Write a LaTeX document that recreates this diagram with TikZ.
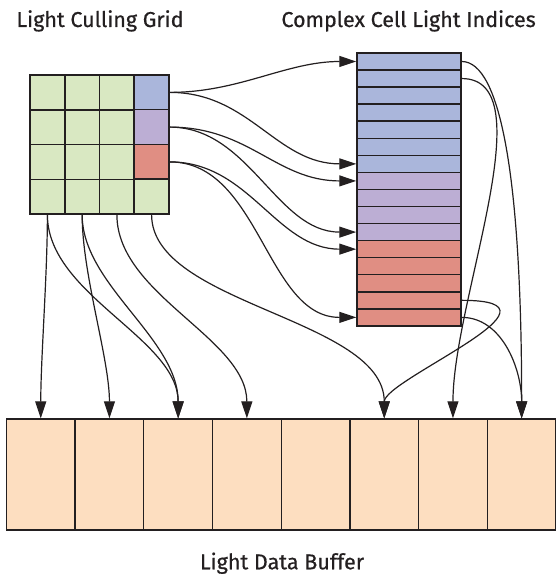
\documentclass[tikz,border=0pt]{standalone}
\usepackage{xcolor}
\usepackage{fontspec}
\setmainfont{Fira Sans}
\newfontfamily\labelfont[FakeBold=0.6]{Fira Sans}
\usepackage{tikz}
\usetikzlibrary{arrows.meta, positioning}

\definecolor{inkgray}{HTML}{231F20}
\definecolor{gridgreen}{HTML}{D9E8C2}
\definecolor{idxblue}{HTML}{AAB6DB}
\definecolor{idxpurple}{HTML}{BCAED4}
\definecolor{idxred}{HTML}{E08E83}
\definecolor{bufpeach}{HTML}{FDDEC0}

\begin{document}
\begin{tikzpicture}[
      x=1pt, y=1pt,
      gridcell/.style={
         rectangle,
         draw=inkgray,
         fill=gridgreen,
         line width=1.5pt,
         inner sep=0pt,
         minimum size=34.75pt},
      idxcell/.style={
         rectangle,
         draw=inkgray,
         line width=1.5pt,
         inner sep=0pt,
         minimum width=104pt,
         minimum height=17.06pt},
      bufcell/.style={
         rectangle,
         draw=inkgray,
         fill=bufpeach,
         line width=1.3pt,
         inner sep=0pt,
         minimum width=68.7pt,
         minimum height=111pt},
      title/.style={
         anchor=base,
         text=inkgray,
         font=\labelfont\fontsize{21.5}{24}\selectfont},
      myarrow/.style={
         -{Triangle[length=17pt,width=11pt]},
         draw=inkgray,
         line width=1.2pt}
      ]
      \useasboundingbox (0,0) rectangle (556,575);

      % light culling grid
      \foreach \r in {0,...,3}
        \foreach \c in {0,...,2}
          \node[gridcell] at ({47.4+34.75*\c}, {482.6-34.75*\r}) (g-\r-\c) {};
      \node[gridcell, fill=idxblue]   at (151.6, 482.6) (g-0-3) {};
      \node[gridcell, fill=idxpurple] at (151.6, 447.9) (g-1-3) {};
      \node[gridcell, fill=idxred]    at (151.6, 413.1) (g-2-3) {};
      \node[gridcell]                 at (151.6, 378.4) (g-3-3) {};

      % complex cell light indices
      \foreach \k in {0,...,6}
        \node[idxcell, fill=idxblue]   at (409, {513.5-17.06*\k}) (i-\k) {};
      \foreach \k in {7,...,10}
        \node[idxcell, fill=idxpurple] at (409, {513.5-17.06*\k}) (i-\k) {};
      \foreach \k in {11,...,15}
        \node[idxcell, fill=idxred]    at (409, {513.5-17.06*\k}) (i-\k) {};

      % light data buffer
      \foreach \k in {1,...,8}
        \node[bufcell] at ({6.4+68.7*(\k-0.5)}, 100.5) (b-\k) {};

      \node[title] at (100, 548)   (grid-title) {Light Culling Grid};
      \node[title] at (408.6, 548) (idx-title)  {Complex Cell Light Indices};
      \node[title] at (282, 5.7)   (buf-title)  {Light Data Buffer};

    \foreach \i/\j/\ax/\ay/\bx/\by in {% start/end/first control/second control
      g-0-3.east/i-0.west/70/0/-70/0,
      g-0-3.east/i-6.west/80/0/-80/0,
      g-1-3.east/i-7.west/80/0/-80/0,
      g-1-3.east/i-10.west/80/0/-80/0,
      g-2-3.east/i-11.west/80/0/-80/0,
      g-2-3.east/i-15.west/90/0/-90/0,
      g-3-0.south/b-1.north/0/-60/0/60,
      g-3-0.south/b-3.north/0/-80/0/80,
      g-3-1.south/b-2.north/0/-60/0/60,
      g-3-1.south/b-3.north/0/-70/0/80,
      g-3-2.south/b-4.north/0/-80/0/80,
      g-3-3.south/b-6.north/0/-90/0/100,
      i-0.east/b-8.north/39/0/0/239,
      i-1.east/b-7.north/84/0/0/119,
      i-14.east/b-6.north/119/0/0/39,
      i-15.east/b-8.north/40/0/0/50
      }
       \draw [myarrow] (\i) .. controls +(\ax,\ay) and +(\bx,\by) .. (\j);

    \end{tikzpicture}
\end{document}
